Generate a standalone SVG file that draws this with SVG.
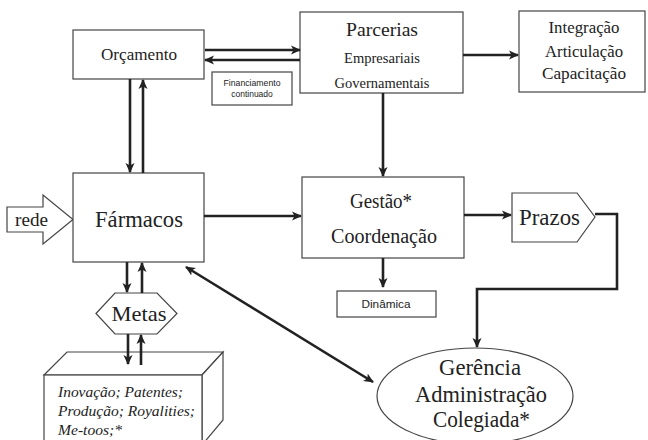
<svg xmlns="http://www.w3.org/2000/svg" width="648" height="440" viewBox="0 0 648 440">
<defs>
<marker id="ah" viewBox="0 0 10 10" refX="9" refY="5" markerWidth="10" markerHeight="10" markerUnits="userSpaceOnUse" orient="auto-start-reverse">
<path d="M0,0.5 L10,5 L0,9.5 L2.5,5 z" fill="#222"/>
</marker>
<style>
.box{fill:#fff;stroke:#444;stroke-width:1.2}
.c{fill:none;stroke:#222;stroke-width:2.6}
.s{font-family:'Liberation Serif','Times New Roman',Times,Tinos,'Noto Serif','DejaVu Serif',serif;fill:#222;text-anchor:middle}
.i{font-family:'Liberation Serif','Times New Roman',Times,Tinos,'Noto Serif','DejaVu Serif',serif;font-style:italic;fill:#222}
.ss{font-family:'Liberation Sans',Arial,sans-serif;fill:#222;text-anchor:middle}
</style>
</defs>
<rect width="648" height="440" fill="#fff"/>

<g id="orcamento">
<rect class="box" x="73" y="30" width="131" height="49"/>
<text class="s" x="139" y="60" font-size="17" textLength="76" lengthAdjust="spacingAndGlyphs">Orçamento</text>
</g>

<g id="financiamento">
<rect class="box" x="212" y="72" width="80" height="33"/>
<text class="ss" x="252" y="86" font-size="8.5" textLength="57" lengthAdjust="spacingAndGlyphs">Financiamento</text>
<text class="ss" x="252" y="97" font-size="8.5">continuado</text>
</g>

<g id="parcerias">
<rect class="box" x="300" y="12" width="163" height="81"/>
<text class="s" x="382" y="36" font-size="19.5" textLength="72" lengthAdjust="spacingAndGlyphs">Parcerias</text>
<text class="s" x="382" y="63" font-size="15" textLength="76" lengthAdjust="spacingAndGlyphs">Empresariais</text>
<text class="s" x="382" y="88" font-size="15" textLength="95" lengthAdjust="spacingAndGlyphs">Governamentais</text>
</g>

<g id="integracao">
<rect class="box" x="519" y="11" width="126" height="81"/>
<text class="s" x="584" y="33" font-size="17" textLength="71" lengthAdjust="spacingAndGlyphs">Integração</text>
<text class="s" x="584" y="57" font-size="17" textLength="78" lengthAdjust="spacingAndGlyphs">Articulação</text>
<text class="s" x="584" y="79" font-size="17" textLength="84" lengthAdjust="spacingAndGlyphs">Capacitação</text>
</g>

<g id="rede">
<polygon class="box" points="7,207 43,207 43,195 73,219.5 43,244 43,232 7,232"/>
<text class="s" x="31.5" y="226" font-size="19" textLength="33" lengthAdjust="spacingAndGlyphs">rede</text>
</g>

<g id="farmacos">
<rect class="box" x="73" y="173" width="131" height="89"/>
<text class="s" x="139" y="227" font-size="22.5" textLength="88" lengthAdjust="spacingAndGlyphs">Fármacos</text>
</g>

<g id="gestao">
<rect class="box" x="302" y="177" width="162" height="81"/>
<text class="s" x="381" y="208" font-size="20" textLength="62" lengthAdjust="spacingAndGlyphs">Gestão*</text>
<text class="s" x="384" y="243" font-size="20" textLength="106" lengthAdjust="spacingAndGlyphs">Coordenação</text>
</g>

<g id="prazos">
<polygon class="box" points="512,193 577,193 595,217 577,242 512,242"/>
<text class="s" x="549.5" y="225" font-size="23" textLength="61" lengthAdjust="spacingAndGlyphs">Prazos</text>
</g>

<g id="dinamica">
<rect class="box" x="337" y="291" width="99" height="26"/>
<text class="ss" x="386" y="308" font-size="10" textLength="49" lengthAdjust="spacingAndGlyphs">Dinâmica</text>
</g>

<g id="metas">
<polygon class="box" points="96,313.5 115,293 157,293 177,313.5 157,334 115,334"/>
<text class="s" x="139" y="321" font-size="22" textLength="55" lengthAdjust="spacingAndGlyphs">Metas</text>
</g>

<g id="resultados">
<polygon class="box" points="44,375 67,352 223,352 202,375"/>
<polygon class="box" points="202,375 223,352 223,420 202,445"/>
<rect class="box" x="44" y="375" width="158" height="70"/>
<text class="i" x="58" y="397" font-size="15.5" textLength="125" lengthAdjust="spacingAndGlyphs">Inovação; Patentes;</text>
<text class="i" x="58" y="416" font-size="15.5" textLength="137" lengthAdjust="spacingAndGlyphs">Produção; Royalities;</text>
<text class="i" x="58" y="435" font-size="15.5" textLength="64" lengthAdjust="spacingAndGlyphs">Me-toos;*</text>
</g>

<g id="gerencia">
<ellipse class="box" cx="475" cy="396" rx="98" ry="48"/>
<text class="s" x="480" y="375" font-size="23" textLength="82" lengthAdjust="spacingAndGlyphs">Gerência</text>
<text class="s" x="481" y="402" font-size="23" textLength="132" lengthAdjust="spacingAndGlyphs">Administração</text>
<text class="s" x="481.5" y="427" font-size="23" textLength="97" lengthAdjust="spacingAndGlyphs">Colegiada*</text>
</g>

<g id="connectors">
<line class="c" x1="205" y1="50" x2="300" y2="50" marker-end="url(#ah)"/>
<line class="c" x1="300" y1="60" x2="205" y2="60" marker-end="url(#ah)"/>
<line class="c" x1="463" y1="55" x2="518" y2="55" marker-end="url(#ah)"/>
<line class="c" x1="383" y1="93" x2="383" y2="176" marker-end="url(#ah)"/>
<line class="c" x1="130" y1="79" x2="130" y2="172" marker-end="url(#ah)"/>
<line class="c" x1="143" y1="173" x2="143" y2="80" marker-end="url(#ah)"/>
<line class="c" x1="204" y1="216" x2="301" y2="216" marker-end="url(#ah)"/>
<line class="c" x1="464" y1="215" x2="511" y2="215" marker-end="url(#ah)"/>
<line class="c" x1="383" y1="258" x2="383" y2="287" marker-end="url(#ah)"/>
<line class="c" x1="127" y1="262" x2="127" y2="292" marker-end="url(#ah)"/>
<line class="c" x1="142" y1="293" x2="142" y2="263" marker-end="url(#ah)"/>
<line class="c" x1="128" y1="334" x2="128" y2="364" marker-end="url(#ah)"/>
<line class="c" x1="141" y1="365" x2="141" y2="335" marker-end="url(#ah)"/>
<line class="c" x1="186" y1="267" x2="373" y2="382" marker-start="url(#ah)" marker-end="url(#ah)"/>
<polyline class="c" points="595,214 617,214 617,289 477,289 477,347" marker-end="url(#ah)"/>
</g>
</svg>
